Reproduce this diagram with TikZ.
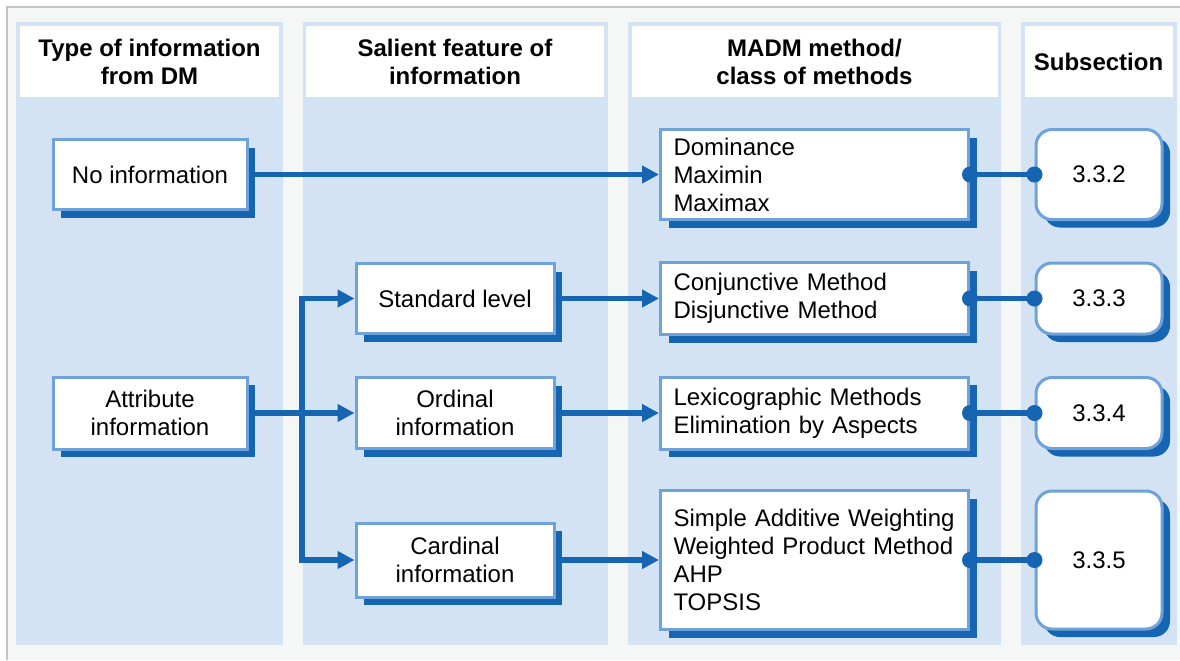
\documentclass[tikz,border=0pt]{standalone}
\usepackage{fontspec}
\setmainfont{Liberation Sans}
\usetikzlibrary{positioning,shadows,arrows.meta}

\definecolor{pagebg}{RGB}{245,247,247}
\definecolor{framegray}{RGB}{196,196,196}
\definecolor{colbg}{RGB}{211,227,243}
\definecolor{boxline}{RGB}{111,162,216}
\definecolor{boxdark}{RGB}{21,101,178}

\begin{document}
\begin{tikzpicture}[
x=0.5pt,y=-0.5pt,
font=\fontsize{12}{14}\selectfont,
head/.style={
  fill=white,
  align=center,
  inner sep=0pt,
  minimum height=35.5pt,
  font=\fontsize{12}{14}\selectfont\bfseries
},
box/.style={
  draw=boxline,
  line width=1.5pt,
  fill=white,
  align=center,
  general shadow={fill=boxdark,shadow xshift=4pt,shadow yshift=-4pt}
},
dminfo/.style={
  box,
  minimum width=97pt
},
feature/.style={
  box,
  minimum width=99pt
},
method/.style={
  box,
  text width=141pt,
  inner xsep=6.5pt,
  align=left
},
subsec/.style={
  box,
  rounded corners=8pt,
  minimum width=63pt
},
link/.style={
  draw=boxdark,
  line width=2.75pt
},
arrow/.style={
  link,
  -{Triangle[length=8.5pt,width=8.5pt]}
},
dot/.style={
  fill=boxdark
}
]
\useasboundingbox (0,0) rectangle (1180,660);
\fill[pagebg] (7,7) rectangle (1180,660);
\draw[framegray,line width=1pt] (7,660) -- (7,7) -- (1180,7);

% columns
\foreach \xa/\xb in {16/283,303/608,628/1001,1021/1177}
  \fill[colbg] (\xa,22) rectangle (\xb,645);

% headers
\node[head,minimum width=129.5pt] (hdm) at (149.5,61.5)
  {Type of information\\from DM};
\node[head,minimum width=149pt] (hfeat) at (455,61.5)
  {Salient feature of\\information};
\node[head,minimum width=183pt] (hmeth) at (814.5,61.5)
  {MADM method/\\class of methods};
\node[head,minimum width=74pt] (hsub) at (1098.5,61.5)
  {Subsection};

% type of information
\node[dminfo,minimum height=35pt] (noinfo) at (150,174.5)
  {No information};
\node[dminfo,minimum height=36pt] (attr) at (150,413)
  {Attribute\\information};

% salient feature
\node[feature,minimum height=35pt] (std) at (455,298.5)
  {Standard level};
\node[feature,minimum height=35.5pt] (ord) at (std |- attr)
  {Ordinal\\information};
\node[feature,minimum height=37pt] (card) at (455,560)
  {Cardinal\\information};

% methods
\node[method,minimum height=45pt] (dom) at (814.5,174.5)
  {Dominance\\Maximin\\Maximax};
\node[method,minimum height=36pt] (conj) at (dom |- std)
  {Conjunctive Method\\Disjunctive Method};
\node[method,minimum height=36pt] (lex) at (dom |- attr)
  {Lexicographic Methods\\Elimination by Aspects};
\node[method,minimum height=69.5pt] (saw) at (dom |- card)
  {Simple Additive Weighting\\Weighted Product Method\\AHP\\TOPSIS};

% subsections
\node[subsec,minimum height=45pt] (s332) at (1099,174.5) {3.3.2};
\node[subsec,minimum height=35.5pt] (s333) at (s332 |- std) {3.3.3};
\node[subsec,minimum height=35.5pt] (s334) at (s332 |- attr) {3.3.4};
\node[subsec,minimum height=69pt] (s335) at (s332 |- card) {3.3.5};

\coordinate (split) at (302,413);

\draw[arrow] (noinfo) -- (dom);
\draw[arrow] (attr) -- (ord);
\draw[arrow] (split) |- (std.west);
\draw[arrow] (split) |- (card.west);
\draw[arrow] (std) -- (conj);
\draw[arrow] (ord) -- (lex);
\draw[arrow] (card) -- (saw);

\draw[link] (dom) -- (s332);
\draw[link] (conj) -- (s333);
\draw[link] (lex) -- (s334);
\draw[link] (saw) -- (s335);
\fill[dot] (dom.east) circle[radius=4pt] (s332.west) circle[radius=4pt];
\fill[dot] (conj.east) circle[radius=4pt] (s333.west) circle[radius=4pt];
\fill[dot] (lex.east) circle[radius=4pt] (s334.west) circle[radius=4pt];
\fill[dot] (saw.east) circle[radius=4pt] (s335.west) circle[radius=4pt];
\end{tikzpicture}
\end{document}
